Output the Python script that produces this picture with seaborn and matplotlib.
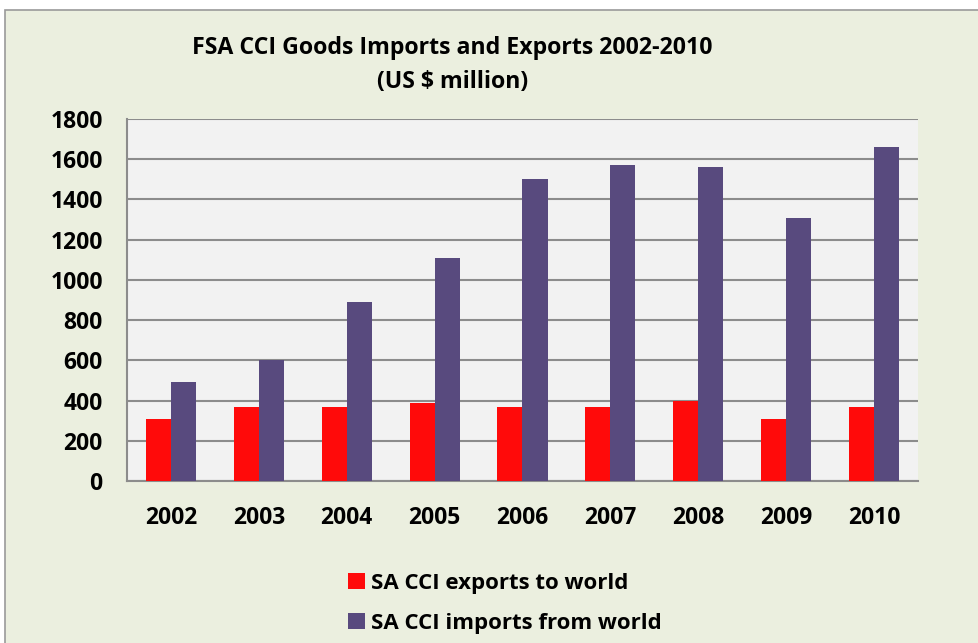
import matplotlib.pyplot as plt
import seaborn as sns
import pandas as pd
from matplotlib.patches import Rectangle

# 데이터
years = ['2002', '2003', '2004', '2005', '2006', '2007', '2008', '2009', '2010']
exports = [310, 370, 370, 390, 370, 370, 400, 310, 370]
imports = [490, 600, 890, 1110, 1500, 1570, 1560, 1310, 1660]
series_names = ['SA CCI exports to world', 'SA CCI imports from world']
colors = ['#FF0A0A', '#584A7E']

df = pd.DataFrame({
    'year': years * 2,
    'value': exports + imports,
    'series': [series_names[0]] * len(years) + [series_names[1]] * len(years),
})

sns.set_style('white')
plt.rcParams['font.family'] = ['Open Sans', 'DejaVu Sans']
plt.rcParams['font.weight'] = 'bold'
plt.rcParams['text.color'] = 'black'
plt.rcParams['xtick.labelcolor'] = 'black'
plt.rcParams['ytick.labelcolor'] = 'black'

fig = plt.figure(figsize=(9.79, 6.43), dpi=100)
fig.patch.set_facecolor('white')
# 바깥 테두리 배경
fig.patches.append(Rectangle((5 / 979, -0.01), 1.0, 1 - 10 / 643 + 0.01,
                             transform=fig.transFigure, facecolor='#EBEFDF',
                             edgecolor='#9A9A9A', linewidth=1.2, zorder=-10))

ax = fig.add_axes([127 / 979, 1 - 481 / 643, (918 - 127) / 979, (481 - 119) / 643])
ax.set_facecolor('#F2F2F2')

sns.barplot(data=df, x='year', y='value', hue='series', palette=colors,
            width=0.57, gap=0, saturation=1, ax=ax, legend=True, zorder=3,
            linewidth=0)

ax.set_ylim(0, 1800)
ax.set_xlim(-0.5, 8.5)
ax.set_yticks(range(0, 1801, 200))
ax.yaxis.grid(True, color='#8C8C8C', linewidth=1.5, zorder=1)
ax.set_axisbelow(True)
ax.set_xlabel('')
ax.set_ylabel('')

for s in ['top', 'right']:
    ax.spines[s].set_visible(False)
for s in ['left', 'bottom']:
    ax.spines[s].set_color('#8C8C8C')
    ax.spines[s].set_linewidth(1.5)

ax.set_xticks([i - 0.5 for i in range(10)], minor=True)
ax.tick_params(axis='x', which='major', length=0, pad=18, labelsize=16.5)
ax.tick_params(axis='x', which='minor', length=6, width=1.5, color='#8C8C8C', direction='out')
ax.tick_params(axis='y', length=6.5, width=1.5, color='#8C8C8C', direction='out', labelsize=16.5, pad=11)
for lab in ax.get_xticklabels() + ax.get_yticklabels():
    lab.set_fontweight('bold')

fig.text(0.462, 1 - 48 / 643, 'FSA CCI Goods Imports and Exports 2002-2010',
         ha='center', va='center', fontsize=16.7, fontweight='bold')
fig.text(0.462, 1 - 82 / 643, '(US $ million)',
         ha='center', va='center', fontsize=16.7, fontweight='bold')

handles, labels = ax.get_legend_handles_labels()
ax.get_legend().remove()
fig.legend(handles, labels, loc='upper left', bbox_to_anchor=(328 / 979, 1 - 553 / 643),
           frameon=False, handlelength=0.75, handleheight=0.75,
           handletextpad=0.3, labelspacing=0.85, prop={'weight': 'bold', 'size': 16})

fig.savefig('out.png', dpi=100, facecolor=fig.get_facecolor())
